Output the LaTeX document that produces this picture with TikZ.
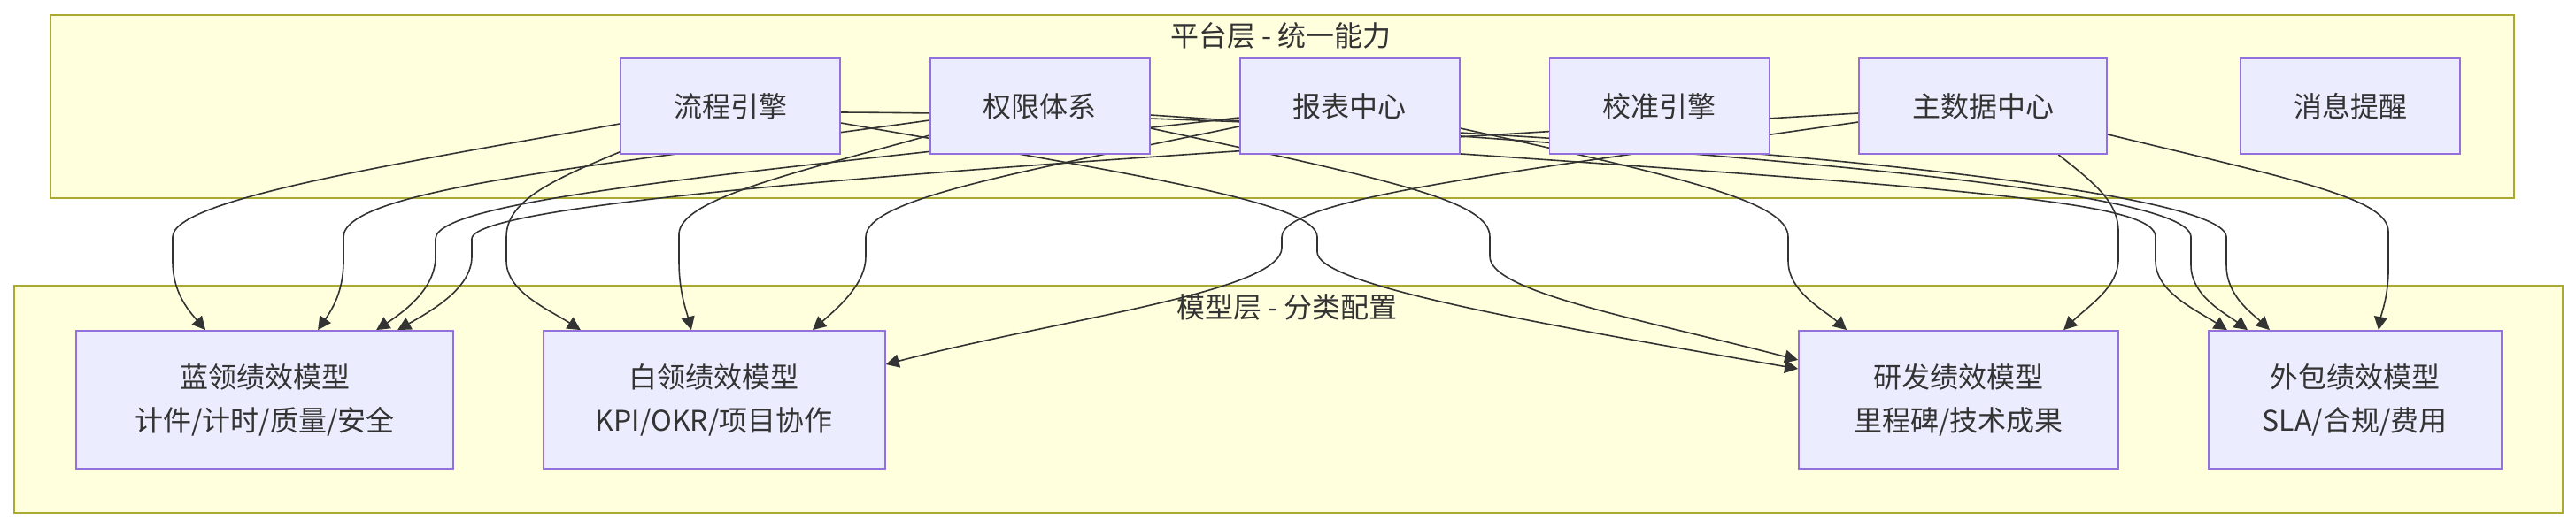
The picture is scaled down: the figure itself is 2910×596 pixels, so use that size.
\documentclass[tikz,border=0pt]{standalone}
\usepackage{fontspec}
\setmainfont{Noto Sans CJK SC}
\usetikzlibrary{arrows.meta, positioning, calc}
\definecolor{clusterfill}{HTML}{FFFFDE}
\definecolor{clusterline}{HTML}{AAAA33}
\definecolor{nodefill}{HTML}{ECECFF}
\definecolor{nodeline}{HTML}{9370DB}
\definecolor{ink}{HTML}{333333}
\pgfdeclarelayer{background}
\pgfdeclarelayer{edges}
\pgfsetlayers{background,edges,main}

\begin{document}
\begin{tikzpicture}[
    x=0.5pt, y=-0.5pt,
    font=\fontsize{16pt}{24.5pt}\selectfont, text=ink,
    layer/.style={draw=clusterline, fill=clusterfill, line width=0.9pt},
    caption/.style={font=\fontsize{16pt}{20pt}\selectfont},
    platform/.style={rectangle, draw=nodeline, fill=nodefill, line width=0.9pt,
                     minimum height=54pt, inner sep=0pt},
    model/.style={rectangle, draw=nodeline, fill=nodefill, line width=0.9pt,
                  minimum height=78pt, inner sep=0pt, align=center},
    link/.style={-{Triangle[length=7.5pt, width=7.5pt]}, draw=ink, line width=0.8pt},
]
\useasboundingbox (0,0) rectangle (2910,596);

% platform layer
\node[platform, minimum width=124pt] (liucheng) at (825,120) {流程引擎};
\node[platform, minimum width=124pt, right=50pt of liucheng] (quanxian) {权限体系};
\node[platform, minimum width=124pt, right=50pt of quanxian] (baobiao) {报表中心};
\node[platform, minimum width=124pt, right=50pt of baobiao] (jiaozhun) {校准引擎};
\node[platform, minimum width=140pt, right=50pt of jiaozhun] (zhushuju) {主数据中心};
\node[platform, minimum width=124pt, right=74.5pt of zhushuju] (xiaoxi) {消息提醒};

% model layer
\node[model, minimum width=213pt] (lanling) at (299,452) {蓝领绩效模型\\计件/计时/质量/安全};
\node[model, minimum width=193pt, right=50pt of lanling] (bailing) {白领绩效模型\\KPI/OKR/项目协作};
\node[model, minimum width=180.5pt] (yanfa) at (2212.5,452) {研发绩效模型\\里程碑/技术成果};
\node[model, minimum width=165.5pt, right=50pt of yanfa] (waibao) {外包绩效模型\\SLA/合规/费用};

\begin{pgfonlayer}{background}
  \fill[white] (0,0) rectangle (2910,596);
  \draw[layer] (57,17) rectangle (2840,224);
  \node[caption] (platformtitle) at (1447,40) {平台层 - 统一能力};
  \draw[layer] (16,323) rectangle (2895,580);
  \node[caption] (modeltitle) at (1454,347) {模型层 - 分类配置};
\end{pgfonlayer}

\begin{pgfonlayer}{edges}
% 流程引擎
\draw[link] ($(liucheng.west)+(0,20)$) .. controls (450,185) and (195,225) .. (195,268)
  -- (195,295) .. controls (195,330) and (212,350) .. ($(lanling.north west)+(147,0)$);
\draw[link] ($(liucheng.south west)+(0,-3)$) .. controls (620,205) and (572,228) .. (572,268)
  -- (572,295) .. controls (572,330) and (620,350) .. ($(bailing.north west)+(43,0)$);
\draw[link] ($(liucheng.east)+(0,19)$) .. controls (1300,200) and (1488,230) .. (1488,268)
  -- (1488,285) .. controls (1488,320) and (1700,360) .. ($(yanfa.west)+(0,-35)$);
\draw[link] ($(liucheng.east)+(0,7)$) .. controls (1600,130) and (2515,200) .. (2515,268)
  -- (2515,300) .. controls (2515,335) and (2545,355) .. ($(waibao.north west)+(70,0)$);
% 权限体系
\draw[link] ($(quanxian.west)+(0,16)$) .. controls (700,185) and (388,212) .. (388,268)
  -- (388,295) .. controls (388,330) and (375,350) .. ($(lanling.north west)+(274,0)$);
\draw[link] ($(quanxian.west)+(0,33)$) .. controls (900,195) and (767,225) .. (767,265)
  -- (767,295) .. controls (767,330) and (775,350) .. ($(bailing.north west)+(168,0)$);
\draw[link] ($(quanxian.east)+(0,25)$) .. controls (1580,205) and (1683,228) .. (1683,268)
  -- (1683,290) .. controls (1683,330) and (1850,360) .. ($(yanfa.west)+(0,-45)$);
\draw[link] ($(quanxian.east)+(0,10)$) .. controls (1900,170) and (2475,210) .. (2475,268)
  -- (2475,300) .. controls (2475,335) and (2515,355) .. ($(waibao.north west)+(45,0)$);
% 报表中心
\draw[link] ($(baobiao.west)+(0,13)$) .. controls (900,190) and (492,222) .. (492,270)
  -- (492,290) .. controls (492,325) and (460,350) .. ($(lanling.north west)+(340,0)$);
\draw[link] ($(baobiao.west)+(0,23)$) .. controls (1150,195) and (978,225) .. (978,268)
  -- (978,290) .. controls (978,320) and (950,345) .. ($(bailing.north west)+(305,0)$);
\draw[link] ($(baobiao.east)+(0,25)$) .. controls (1900,200) and (2020,228) .. (2020,268)
  -- (2020,295) .. controls (2020,330) and (2060,350) .. ($(yanfa.north west)+(55,0)$);
\draw[link] ($(baobiao.south east)+(0,-1)$) .. controls (2250,215) and (2435,230) .. (2435,268)
  -- (2435,295) .. controls (2435,330) and (2480,350) .. ($(waibao.north west)+(22,0)$);
% 主数据中心
\draw[link] ($(zhushuju.west)+(0,8)$) .. controls (1200,180) and (533,225) .. (533,270)
  -- (533,290) .. controls (533,325) and (490,350) .. ($(lanling.north west)+(364,0)$);
\draw[link] ($(zhushuju.west)+(0,18)$) .. controls (1700,195) and (1448,225) .. (1448,268)
  -- (1448,280) .. controls (1448,330) and (1200,360) .. ($(bailing.east)+(0,-40)$);
\draw[link] ($(zhushuju.south west)+(226,0)$) .. controls (2370,210) and (2393,230) .. (2393,262)
  -- (2393,293) .. controls (2393,325) and (2360,345) .. ($(yanfa.north west)+(300,0)$);
\draw[link] ($(zhushuju.east)+(0,32)$) .. controls (2600,205) and (2698,225) .. (2698,262)
  -- (2698,305) .. controls (2698,335) and (2690,355) .. ($(waibao.north west)+(193,0)$);
\end{pgfonlayer}
\end{tikzpicture}
\end{document}
